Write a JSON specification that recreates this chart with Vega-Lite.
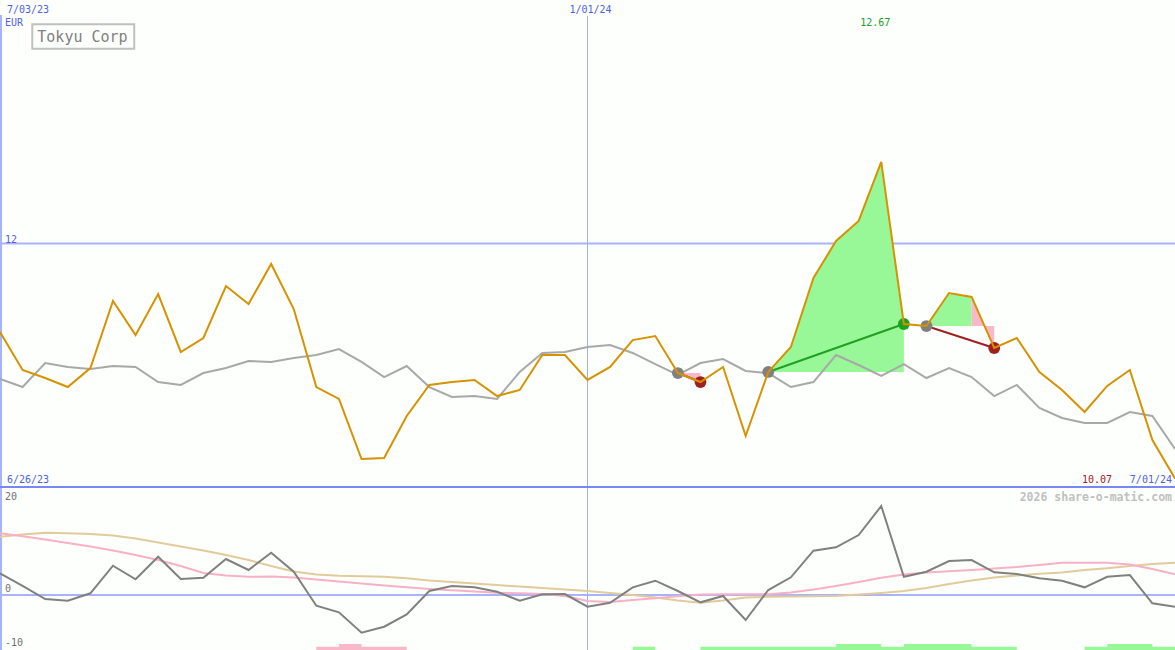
{
"$schema": "https://vega.github.io/schema/vega-lite/v6.json",
"background": "#fdfffd",
"padding": 0,
"spacing": 0,
"bounds": "flush",
"config": {"view": {"stroke": null}, "text": {"font": "DejaVu Sans Mono"}},
"resolve": {"scale": {"y": "independent"}},
"datasets": {
"one": [{}],
"weeks": [
{"d":"2023-07-03","price":11.273,"ma":10.887,"osc":4.43,"s1":12.59,"s2":11.90},
{"d":"2023-07-10","price":10.961,"ma":10.821,"osc":1.84,"s1":11.98,"s2":12.35},
{"d":"2023-07-17","price":10.895,"ma":11.018,"osc":-0.82,"s1":11.33,"s2":12.71},
{"d":"2023-07-24","price":10.821,"ma":10.986,"osc":-1.16,"s1":10.61,"s2":12.59},
{"d":"2023-07-31","price":10.977,"ma":10.969,"osc":0.35,"s1":9.90,"s2":12.45},
{"d":"2023-08-07","price":11.528,"ma":10.994,"osc":5.98,"s1":9.08,"s2":12.14},
{"d":"2023-08-14","price":11.248,"ma":10.986,"osc":3.20,"s1":8.16,"s2":11.53},
{"d":"2023-08-21","price":11.585,"ma":10.862,"osc":7.82,"s1":7.14,"s2":10.71},
{"d":"2023-08-28","price":11.109,"ma":10.838,"osc":3.27,"s1":5.92,"s2":9.90},
{"d":"2023-09-04","price":11.224,"ma":10.936,"osc":3.53,"s1":4.49,"s2":9.08},
{"d":"2023-09-11","price":11.651,"ma":10.977,"osc":7.35,"s1":3.98,"s2":8.16},
{"d":"2023-09-18","price":11.503,"ma":11.035,"osc":5.10,"s1":3.73,"s2":7.14},
{"d":"2023-09-25","price":11.832,"ma":11.027,"osc":8.63,"s1":3.78,"s2":5.92},
{"d":"2023-10-02","price":11.462,"ma":11.060,"osc":4.76,"s1":3.57,"s2":4.80},
{"d":"2023-10-09","price":10.821,"ma":11.084,"osc":-2.18,"s1":3.16,"s2":4.18},
{"d":"2023-10-16","price":10.723,"ma":11.133,"osc":-3.53,"s1":2.76,"s2":3.94},
{"d":"2023-10-23","price":10.230,"ma":11.027,"osc":-7.69,"s1":2.35,"s2":3.82},
{"d":"2023-10-30","price":10.238,"ma":10.903,"osc":-6.47,"s1":1.94,"s2":3.73},
{"d":"2023-11-06","price":10.583,"ma":10.994,"osc":-3.94,"s1":1.57,"s2":3.41},
{"d":"2023-11-13","price":10.838,"ma":10.821,"osc":0.82,"s1":1.22,"s2":2.96},
{"d":"2023-11-20","price":10.862,"ma":10.739,"osc":1.84,"s1":0.96,"s2":2.65},
{"d":"2023-11-27","price":10.879,"ma":10.747,"osc":1.57,"s1":0.71,"s2":2.35},
{"d":"2023-12-04","price":10.747,"ma":10.723,"osc":0.67,"s1":0.47,"s2":2.04},
{"d":"2023-12-11","price":10.797,"ma":10.945,"osc":-1.16,"s1":0.35,"s2":1.73},
{"d":"2023-12-18","price":11.084,"ma":11.101,"osc":0.14,"s1":0.20,"s2":1.43},
{"d":"2023-12-25","price":11.084,"ma":11.109,"osc":0.20,"s1":-0.20,"s2":1.12},
{"d":"2024-01-01","price":10.879,"ma":11.150,"osc":-2.39,"s1":-1.22,"s2":0.82},
{"d":"2024-01-08","price":10.986,"ma":11.166,"osc":-1.57,"s1":-1.43,"s2":0.41},
{"d":"2024-01-15","price":11.207,"ma":11.101,"osc":1.57,"s1":-1.02,"s2":0.0},
{"d":"2024-01-22","price":11.240,"ma":11.010,"osc":2.92,"s1":-0.67,"s2":-0.51},
{"d":"2024-01-29","price":10.936,"ma":10.920,"osc":0.82,"s1":-0.27,"s2":-1.12},
{"d":"2024-02-05","price":10.862,"ma":11.018,"osc":-1.49,"s1":0.10,"s2":-1.57},
{"d":"2024-02-12","price":10.986,"ma":11.051,"osc":-0.20,"s1":0.14,"s2":-1.12},
{"d":"2024-02-19","price":10.419,"ma":10.953,"osc":-5.10,"s1":0.14,"s2":-0.51},
{"d":"2024-02-26","price":10.945,"ma":10.936,"osc":1.02,"s1":0.14,"s2":-0.35},
{"d":"2024-03-04","price":11.150,"ma":10.821,"osc":3.61,"s1":0.51,"s2":-0.31},
{"d":"2024-03-11","price":11.717,"ma":10.862,"osc":9.04,"s1":1.12,"s2":-0.27},
{"d":"2024-03-18","price":12.021,"ma":11.084,"osc":9.73,"s1":1.84,"s2":-0.20},
{"d":"2024-03-25","price":12.185,"ma":11.002,"osc":12.24,"s1":2.65,"s2":0.10},
{"d":"2024-04-01","price":12.67,"ma":10.912,"osc":18.16,"s1":3.53,"s2":0.41},
{"d":"2024-04-08","price":11.339,"ma":11.010,"osc":3.73,"s1":4.18,"s2":0.82},
{"d":"2024-04-15","price":11.322,"ma":10.895,"osc":4.76,"s1":4.59,"s2":1.43},
{"d":"2024-04-22","price":11.593,"ma":10.977,"osc":6.94,"s1":4.84,"s2":2.24},
{"d":"2024-04-29","price":11.561,"ma":10.903,"osc":7.14,"s1":5.10,"s2":2.96},
{"d":"2024-05-06","price":11.142,"ma":10.747,"osc":4.63,"s1":5.43,"s2":3.57},
{"d":"2024-05-13","price":11.224,"ma":10.838,"osc":4.29,"s1":5.71,"s2":3.98},
{"d":"2024-05-20","price":10.945,"ma":10.649,"osc":3.41,"s1":6.12,"s2":4.35},
{"d":"2024-05-27","price":10.797,"ma":10.567,"osc":2.92,"s1":6.59,"s2":4.59},
{"d":"2024-06-03","price":10.616,"ma":10.526,"osc":1.57,"s1":6.59,"s2":5.10},
{"d":"2024-06-10","price":10.830,"ma":10.526,"osc":3.73,"s1":6.59,"s2":5.45},
{"d":"2024-06-17","price":10.961,"ma":10.616,"osc":4.08,"s1":6.22,"s2":5.92},
{"d":"2024-06-24","price":10.386,"ma":10.583,"osc":-1.69,"s1":5.31,"s2":6.33},
{"d":"2024-07-01","price":10.07,"ma":10.312,"osc":-2.39,"s1":4.22,"s2":6.59}
],
"fills": [
{"g":"t1","d":"2024-01-29","price":10.936,"entry":10.936,"c":"down"},
{"g":"t1","d":"2024-02-05","price":10.862,"entry":10.936,"c":"down"},
{"g":"t2","d":"2024-02-26","price":10.945,"entry":10.945,"c":"up"},
{"g":"t2","d":"2024-03-04","price":11.150,"entry":10.945,"c":"up"},
{"g":"t2","d":"2024-03-11","price":11.717,"entry":10.945,"c":"up"},
{"g":"t2","d":"2024-03-18","price":12.021,"entry":10.945,"c":"up"},
{"g":"t2","d":"2024-03-25","price":12.185,"entry":10.945,"c":"up"},
{"g":"t2","d":"2024-04-01","price":12.67,"entry":10.945,"c":"up"},
{"g":"t2","d":"2024-04-08","price":11.339,"entry":10.945,"c":"up"},
{"g":"t3a","d":"2024-04-15","price":11.322,"entry":11.322,"c":"up"},
{"g":"t3a","d":"2024-04-22","price":11.593,"entry":11.322,"c":"up"},
{"g":"t3a","d":"2024-04-29","price":11.561,"entry":11.322,"c":"up"},
{"g":"t3b","d":"2024-04-29","price":11.561,"entry":11.322,"c":"down"},
{"g":"t3b","d":"2024-05-06","price":11.142,"entry":11.322,"c":"down"}
],
"trades": [
{"t":1,"d":"2024-01-29","price":10.936,"kind":"entry","res":"loss"},
{"t":1,"d":"2024-02-05","price":10.862,"kind":"loss","res":"loss"},
{"t":2,"d":"2024-02-26","price":10.945,"kind":"entry","res":"win"},
{"t":2,"d":"2024-04-08","price":11.339,"kind":"win","res":"win"},
{"t":3,"d":"2024-04-15","price":11.322,"kind":"entry","res":"loss"},
{"t":3,"d":"2024-05-06","price":11.142,"kind":"loss","res":"loss"}
],
"bars": [
{"d1":"2023-10-09","d2":"2023-11-06","top":-10.55,"c":"down"},
{"d1":"2023-10-16","d2":"2023-10-23","top":-10.0,"c":"down"},
{"d1":"2024-01-15","d2":"2024-01-22","top":-10.55,"c":"up"},
{"d1":"2024-02-05","d2":"2024-05-13","top":-10.55,"c":"up"},
{"d1":"2024-03-18","d2":"2024-04-01","top":-10.0,"c":"up"},
{"d1":"2024-04-08","d2":"2024-04-29","top":-10.0,"c":"up"},
{"d1":"2024-06-03","d2":"2024-07-01","top":-10.55,"c":"up"},
{"d1":"2024-06-10","d2":"2024-06-24","top":-10.0,"c":"up"}
]
},
"vconcat": [
{
"width": 1175,
"height": 487,
"data": {"name": "one"},
"layer": [
{"mark": {"type": "rule", "color": "#a8b4f8", "strokeWidth": 2, "clip": true},
 "encoding": {"y": {"datum": 12, "type": "quantitative", "scale": {"domain": [10, 14], "nice": false, "zero": false}, "axis": null}}},
{"mark": {"type": "rule", "color": "#a8b4f8", "strokeWidth": 4, "clip": true},
 "encoding": {
  "x": {"datum": {"year": 2023, "month": 7, "date": 3, "utc": true}, "type": "temporal", "scale": {"domain": [{"year": 2023, "month": 7, "date": 3, "utc": true}, {"year": 2024, "month": 7, "date": 1, "utc": true}]}, "axis": null},
  "y": {"datum": 13.877, "type": "quantitative", "scale": {"domain": [10, 14], "nice": false, "zero": false}, "axis": null},
  "y2": {"datum": 10}}},
{"mark": {"type": "rule", "color": "#a0b0f8", "strokeWidth": 1, "clip": true},
 "encoding": {
  "x": {"datum": {"year": 2024, "month": 1, "date": 1, "utc": true}, "type": "temporal", "scale": {"domain": [{"year": 2023, "month": 7, "date": 3, "utc": true}, {"year": 2024, "month": 7, "date": 1, "utc": true}]}, "axis": null},
  "y": {"datum": 13.869, "type": "quantitative", "scale": {"domain": [10, 14], "nice": false, "zero": false}, "axis": null},
  "y2": {"datum": 10}}},
{"data": {"name": "fills"},
 "mark": {"type": "area", "opacity": 1, "clip": true},
 "encoding": {
  "x": {"field": "d", "type": "temporal", "scale": {"domain": [{"year": 2023, "month": 7, "date": 3, "utc": true}, {"year": 2024, "month": 7, "date": 1, "utc": true}]}, "axis": null},
  "y": {"field": "price", "type": "quantitative", "scale": {"domain": [10, 14], "nice": false, "zero": false}, "axis": null},
  "y2": {"field": "entry"},
  "detail": {"field": "g"},
  "color": {"field": "c", "type": "nominal", "scale": {"domain": ["entry", "win", "loss", "up", "down"], "range": ["#808080", "#20a020", "#a02020", "#98f898", "#f8b8c8"]}, "legend": null}}},
{"data": {"name": "weeks"},
 "mark": {"type": "line", "color": "#a8a8a8", "strokeWidth": 2, "clip": true},
 "encoding": {
  "x": {"field": "d", "type": "temporal", "scale": {"domain": [{"year": 2023, "month": 7, "date": 3, "utc": true}, {"year": 2024, "month": 7, "date": 1, "utc": true}]}, "axis": null},
  "y": {"field": "ma", "type": "quantitative", "scale": {"domain": [10, 14], "nice": false, "zero": false}, "axis": null}}},
{"data": {"name": "trades"},
 "mark": {"type": "line", "strokeWidth": 2, "clip": true},
 "encoding": {
  "x": {"field": "d", "type": "temporal", "scale": {"domain": [{"year": 2023, "month": 7, "date": 3, "utc": true}, {"year": 2024, "month": 7, "date": 1, "utc": true}]}, "axis": null},
  "y": {"field": "price", "type": "quantitative", "scale": {"domain": [10, 14], "nice": false, "zero": false}, "axis": null},
  "detail": {"field": "t"},
  "color": {"field": "res", "type": "nominal", "scale": {"domain": ["entry", "win", "loss", "up", "down"], "range": ["#808080", "#20a020", "#a02020", "#98f898", "#f8b8c8"]}, "legend": null}}},
{"data": {"name": "trades"},
 "mark": {"type": "circle", "size": 140, "opacity": 1},
 "encoding": {
  "x": {"field": "d", "type": "temporal", "scale": {"domain": [{"year": 2023, "month": 7, "date": 3, "utc": true}, {"year": 2024, "month": 7, "date": 1, "utc": true}]}, "axis": null},
  "y": {"field": "price", "type": "quantitative", "scale": {"domain": [10, 14], "nice": false, "zero": false}, "axis": null},
  "color": {"field": "kind", "type": "nominal", "scale": {"domain": ["entry", "win", "loss", "up", "down"], "range": ["#808080", "#20a020", "#a02020", "#98f898", "#f8b8c8"]}, "legend": null}}},
{"data": {"name": "weeks"},
 "mark": {"type": "line", "color": "#d69200", "strokeWidth": 2, "clip": true},
 "encoding": {
  "x": {"field": "d", "type": "temporal", "scale": {"domain": [{"year": 2023, "month": 7, "date": 3, "utc": true}, {"year": 2024, "month": 7, "date": 1, "utc": true}]}, "axis": null},
  "y": {"field": "price", "type": "quantitative", "scale": {"domain": [10, 14], "nice": false, "zero": false}, "axis": null}}},
{"mark": {"type": "rule", "color": "#7888f0", "strokeWidth": 2, "clip": true},
 "encoding": {"y": {"datum": 10, "type": "quantitative", "scale": {"domain": [10, 14], "nice": false, "zero": false}, "axis": null}}},
{"mark": {"type": "rect", "fill": "transparent", "stroke": "#c0c0c0", "strokeWidth": 2},
 "encoding": {
  "x": {"datum": {"year": 2023, "month": 7, "date": 13, "utc": true}, "type": "temporal", "scale": {"domain": [{"year": 2023, "month": 7, "date": 3, "utc": true}, {"year": 2024, "month": 7, "date": 1, "utc": true}]}, "axis": null},
  "x2": {"datum": {"year": 2023, "month": 8, "date": 13, "hours": 14, "utc": true}},
  "y": {"datum": 13.80, "type": "quantitative", "scale": {"domain": [10, 14], "nice": false, "zero": false}, "axis": null},
  "y2": {"datum": 13.60}}},
{"mark": {"type": "text", "text": "Tokyu Corp", "align": "center", "baseline": "alphabetic", "dy": 42, "fontSize": 15, "color": "#808080"},
 "encoding": {
  "x": {"datum": {"year": 2023, "month": 7, "date": 28, "hours": 13, "utc": true}, "type": "temporal", "scale": {"domain": [{"year": 2023, "month": 7, "date": 3, "utc": true}, {"year": 2024, "month": 7, "date": 1, "utc": true}]}, "axis": null},
  "y": {"datum": 14, "type": "quantitative", "scale": {"domain": [10, 14], "nice": false, "zero": false}, "axis": null}}},
{"mark": {"type": "text", "text": "7/03/23", "align": "left", "baseline": "alphabetic", "dx": 7, "dy": 13, "fontSize": 10, "color": "#5060e8"},
 "encoding": {
  "x": {"datum": {"year": 2023, "month": 7, "date": 3, "utc": true}, "type": "temporal", "scale": {"domain": [{"year": 2023, "month": 7, "date": 3, "utc": true}, {"year": 2024, "month": 7, "date": 1, "utc": true}]}, "axis": null},
  "y": {"datum": 14, "type": "quantitative", "scale": {"domain": [10, 14], "nice": false, "zero": false}, "axis": null}}},
{"mark": {"type": "text", "text": "EUR", "align": "left", "baseline": "alphabetic", "dx": 5, "dy": 26, "fontSize": 10, "color": "#5060e8"},
 "encoding": {
  "x": {"datum": {"year": 2023, "month": 7, "date": 3, "utc": true}, "type": "temporal", "scale": {"domain": [{"year": 2023, "month": 7, "date": 3, "utc": true}, {"year": 2024, "month": 7, "date": 1, "utc": true}]}, "axis": null},
  "y": {"datum": 14, "type": "quantitative", "scale": {"domain": [10, 14], "nice": false, "zero": false}, "axis": null}}},
{"mark": {"type": "text", "text": "1/01/24", "align": "center", "baseline": "alphabetic", "dx": 3, "dy": 13, "fontSize": 10, "color": "#5060e8"},
 "encoding": {
  "x": {"datum": {"year": 2024, "month": 1, "date": 1, "utc": true}, "type": "temporal", "scale": {"domain": [{"year": 2023, "month": 7, "date": 3, "utc": true}, {"year": 2024, "month": 7, "date": 1, "utc": true}]}, "axis": null},
  "y": {"datum": 14, "type": "quantitative", "scale": {"domain": [10, 14], "nice": false, "zero": false}, "axis": null}}},
{"mark": {"type": "text", "text": "12.67", "align": "center", "baseline": "alphabetic", "dx": -6, "dy": 26, "fontSize": 10, "color": "#20a020"},
 "encoding": {
  "x": {"datum": {"year": 2024, "month": 4, "date": 1, "utc": true}, "type": "temporal", "scale": {"domain": [{"year": 2023, "month": 7, "date": 3, "utc": true}, {"year": 2024, "month": 7, "date": 1, "utc": true}]}, "axis": null},
  "y": {"datum": 14, "type": "quantitative", "scale": {"domain": [10, 14], "nice": false, "zero": false}, "axis": null}}},
{"mark": {"type": "text", "text": "12", "align": "left", "baseline": "alphabetic", "dx": 5, "dy": -1, "fontSize": 10, "color": "#5060e8"},
 "encoding": {
  "x": {"datum": {"year": 2023, "month": 7, "date": 3, "utc": true}, "type": "temporal", "scale": {"domain": [{"year": 2023, "month": 7, "date": 3, "utc": true}, {"year": 2024, "month": 7, "date": 1, "utc": true}]}, "axis": null},
  "y": {"datum": 12, "type": "quantitative", "scale": {"domain": [10, 14], "nice": false, "zero": false}, "axis": null}}},
{"mark": {"type": "text", "text": "6/26/23", "align": "left", "baseline": "alphabetic", "dx": 7, "dy": -4, "fontSize": 10, "color": "#5060e8"},
 "encoding": {
  "x": {"datum": {"year": 2023, "month": 7, "date": 3, "utc": true}, "type": "temporal", "scale": {"domain": [{"year": 2023, "month": 7, "date": 3, "utc": true}, {"year": 2024, "month": 7, "date": 1, "utc": true}]}, "axis": null},
  "y": {"datum": 10, "type": "quantitative", "scale": {"domain": [10, 14], "nice": false, "zero": false}, "axis": null}}},
{"mark": {"type": "text", "text": "10.07", "align": "right", "baseline": "alphabetic", "dx": -63, "dy": -4, "fontSize": 10, "color": "#a02020"},
 "encoding": {
  "x": {"datum": {"year": 2024, "month": 7, "date": 1, "utc": true}, "type": "temporal", "scale": {"domain": [{"year": 2023, "month": 7, "date": 3, "utc": true}, {"year": 2024, "month": 7, "date": 1, "utc": true}]}, "axis": null},
  "y": {"datum": 10, "type": "quantitative", "scale": {"domain": [10, 14], "nice": false, "zero": false}, "axis": null}}},
{"mark": {"type": "text", "text": "7/01/24", "align": "right", "baseline": "alphabetic", "dx": -3, "dy": -4, "fontSize": 10, "color": "#5060e8"},
 "encoding": {
  "x": {"datum": {"year": 2024, "month": 7, "date": 1, "utc": true}, "type": "temporal", "scale": {"domain": [{"year": 2023, "month": 7, "date": 3, "utc": true}, {"year": 2024, "month": 7, "date": 1, "utc": true}]}, "axis": null},
  "y": {"datum": 10, "type": "quantitative", "scale": {"domain": [10, 14], "nice": false, "zero": false}, "axis": null}}}
]
},
{
"width": 1175,
"height": 163,
"data": {"name": "one"},
"layer": [
{"mark": {"type": "rule", "color": "#a8b4f8", "strokeWidth": 2, "clip": true},
 "encoding": {"y": {"datum": 0, "type": "quantitative", "scale": {"domain": [-11.22, 22.04], "nice": false, "zero": false}, "axis": null}}},
{"mark": {"type": "rule", "color": "#a8b4f8", "strokeWidth": 4, "clip": true},
 "encoding": {"x": {"datum": {"year": 2023, "month": 7, "date": 3, "utc": true}, "type": "temporal", "scale": {"domain": [{"year": 2023, "month": 7, "date": 3, "utc": true}, {"year": 2024, "month": 7, "date": 1, "utc": true}]}, "axis": null}}},
{"mark": {"type": "rule", "color": "#a0b0f8", "strokeWidth": 1, "clip": true},
 "encoding": {"x": {"datum": {"year": 2024, "month": 1, "date": 1, "utc": true}, "type": "temporal", "scale": {"domain": [{"year": 2023, "month": 7, "date": 3, "utc": true}, {"year": 2024, "month": 7, "date": 1, "utc": true}]}, "axis": null}}},
{"mark": {"type": "rule", "color": "#7888f0", "strokeWidth": 2, "clip": true},
 "encoding": {"y": {"datum": 22.04, "type": "quantitative", "scale": {"domain": [-11.22, 22.04], "nice": false, "zero": false}, "axis": null}}},
{"data": {"name": "bars"},
 "mark": {"type": "rect", "clip": true},
 "encoding": {
  "x": {"field": "d1", "type": "temporal", "scale": {"domain": [{"year": 2023, "month": 7, "date": 3, "utc": true}, {"year": 2024, "month": 7, "date": 1, "utc": true}]}, "axis": null},
  "x2": {"field": "d2"},
  "y": {"field": "top", "type": "quantitative", "scale": {"domain": [-11.22, 22.04], "nice": false, "zero": false}, "axis": null},
  "y2": {"datum": -12},
  "color": {"field": "c", "type": "nominal", "scale": {"domain": ["entry", "win", "loss", "up", "down"], "range": ["#808080", "#20a020", "#a02020", "#98f898", "#f8b8c8"]}, "legend": null}}},
{"data": {"name": "weeks"},
 "mark": {"type": "line", "color": "#e2cb9a", "strokeWidth": 2, "clip": true},
 "encoding": {
  "x": {"field": "d", "type": "temporal", "scale": {"domain": [{"year": 2023, "month": 7, "date": 3, "utc": true}, {"year": 2024, "month": 7, "date": 1, "utc": true}]}, "axis": null},
  "y": {"field": "s2", "type": "quantitative", "scale": {"domain": [-11.22, 22.04], "nice": false, "zero": false}, "axis": null}}},
{"data": {"name": "weeks"},
 "mark": {"type": "line", "color": "#f8b0c8", "strokeWidth": 2, "clip": true},
 "encoding": {
  "x": {"field": "d", "type": "temporal", "scale": {"domain": [{"year": 2023, "month": 7, "date": 3, "utc": true}, {"year": 2024, "month": 7, "date": 1, "utc": true}]}, "axis": null},
  "y": {"field": "s1", "type": "quantitative", "scale": {"domain": [-11.22, 22.04], "nice": false, "zero": false}, "axis": null}}},
{"data": {"name": "weeks"},
 "mark": {"type": "line", "color": "#808080", "strokeWidth": 2, "clip": true},
 "encoding": {
  "x": {"field": "d", "type": "temporal", "scale": {"domain": [{"year": 2023, "month": 7, "date": 3, "utc": true}, {"year": 2024, "month": 7, "date": 1, "utc": true}]}, "axis": null},
  "y": {"field": "osc", "type": "quantitative", "scale": {"domain": [-11.22, 22.04], "nice": false, "zero": false}, "axis": null}}},
{"mark": {"type": "text", "text": "20", "align": "left", "baseline": "alphabetic", "dx": 5, "dy": 3, "fontSize": 10, "color": "#707070"},
 "encoding": {
  "x": {"datum": {"year": 2023, "month": 7, "date": 3, "utc": true}, "type": "temporal", "scale": {"domain": [{"year": 2023, "month": 7, "date": 3, "utc": true}, {"year": 2024, "month": 7, "date": 1, "utc": true}]}, "axis": null},
  "y": {"datum": 20, "type": "quantitative", "scale": {"domain": [-11.22, 22.04], "nice": false, "zero": false}, "axis": null}}},
{"mark": {"type": "text", "text": "0", "align": "left", "baseline": "alphabetic", "dx": 5, "dy": -3, "fontSize": 10, "color": "#707070"},
 "encoding": {
  "x": {"datum": {"year": 2023, "month": 7, "date": 3, "utc": true}, "type": "temporal", "scale": {"domain": [{"year": 2023, "month": 7, "date": 3, "utc": true}, {"year": 2024, "month": 7, "date": 1, "utc": true}]}, "axis": null},
  "y": {"datum": 0, "type": "quantitative", "scale": {"domain": [-11.22, 22.04], "nice": false, "zero": false}, "axis": null}}},
{"mark": {"type": "text", "text": "-10", "align": "left", "baseline": "alphabetic", "dx": 5, "dy": 2, "fontSize": 10, "color": "#707070"},
 "encoding": {
  "x": {"datum": {"year": 2023, "month": 7, "date": 3, "utc": true}, "type": "temporal", "scale": {"domain": [{"year": 2023, "month": 7, "date": 3, "utc": true}, {"year": 2024, "month": 7, "date": 1, "utc": true}]}, "axis": null},
  "y": {"datum": -10, "type": "quantitative", "scale": {"domain": [-11.22, 22.04], "nice": false, "zero": false}, "axis": null}}},
{"mark": {"type": "text", "text": "2026 share-o-matic.com", "align": "right", "baseline": "alphabetic", "dx": -3, "dy": 4, "fontSize": 11.5, "fontWeight": "bold", "color": "#c0c0c0"},
 "encoding": {
  "x": {"datum": {"year": 2024, "month": 7, "date": 1, "utc": true}, "type": "temporal", "scale": {"domain": [{"year": 2023, "month": 7, "date": 3, "utc": true}, {"year": 2024, "month": 7, "date": 1, "utc": true}]}, "axis": null},
  "y": {"datum": 20, "type": "quantitative", "scale": {"domain": [-11.22, 22.04], "nice": false, "zero": false}, "axis": null}}}
]
}
]
}
